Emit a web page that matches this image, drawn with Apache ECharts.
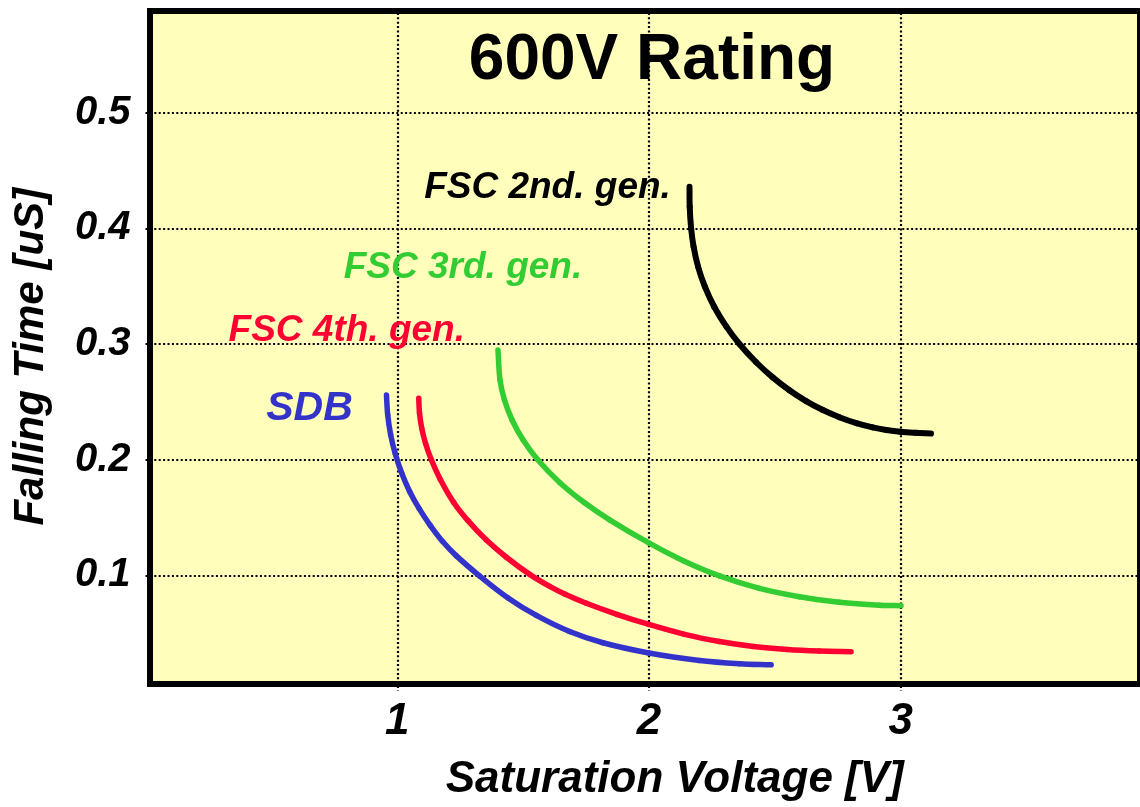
<!DOCTYPE html>
<html>
<head>
<meta charset="utf-8">
<script src="https://cdn.jsdelivr.net/npm/echarts@6/dist/echarts.min.js"></script>
<style>
  html, body { margin: 0; padding: 0; background: #ffffff; }
  #chart { width: 1140px; height: 807px; }
</style>
</head>
<body>
<div id="chart"></div>
<script>
// ---- data ----
const titleText = '600V Rating';
const xAxisName = 'Saturation Voltage [V]';
const yAxisName = 'Falling Time [uS]';
const xTicks = [1, 2, 3];
const yTicks = [0.1, 0.2, 0.3, 0.4, 0.5];

const fsc2Name = 'FSC 2nd. gen.';
const fsc2X = [2.1607, 2.1615, 2.1671, 2.1770, 2.1948, 2.2218, 2.2587, 2.3071, 2.3591, 2.4254, 2.4913,
               2.5575, 2.6238, 2.6885, 2.7560, 2.8234, 2.8881, 2.9425, 2.9980, 3.0575, 3.1198];
const fsc2Y = [0.4360, 0.4187, 0.4000, 0.3841, 0.3668, 0.3495, 0.3322, 0.3150, 0.3000, 0.2842, 0.2711,
               0.2600, 0.2506, 0.2431, 0.2367, 0.2316, 0.2279, 0.2257, 0.2241, 0.2232, 0.2226];

const fsc3Name = 'FSC 3rd. gen.';
const fsc3X = [1.4000, 1.4079, 1.4258, 1.4560, 1.5000, 1.5587, 1.6448, 1.7440, 1.8433, 1.9992, 2.1381,
               2.2798, 2.4385, 2.5972, 2.7560, 2.9147, 3.0008];
const fsc3Y = [0.2948, 0.2689, 0.2516, 0.2343, 0.2170, 0.1997, 0.1803, 0.1627, 0.1480, 0.1280, 0.1124,
               0.0995, 0.0887, 0.0815, 0.0768, 0.0742, 0.0738];

const fsc4Name = 'FSC 4th. gen.';
const fsc4X = [1.0853, 1.0883, 1.0972, 1.1121, 1.1357, 1.1710, 1.2242, 1.2798, 1.3540, 1.4333, 1.5258,
               1.6052, 1.6647, 1.7508, 1.8750, 1.9992, 2.1409, 2.2798, 2.4147, 2.5496, 2.6766, 2.8024];
const fsc4Y = [0.2531, 0.2401, 0.2271, 0.2142, 0.1997, 0.1829, 0.1630, 0.1475, 0.1305, 0.1156, 0.1008,
               0.0904, 0.0839, 0.0759, 0.0661, 0.0575, 0.0490, 0.0428, 0.0385, 0.0359, 0.0346, 0.0340];

const sdbName = 'SDB';
const sdbX = [0.9571, 0.9620, 0.9737, 0.9923, 1.0175, 1.0491, 1.0870, 1.1308, 1.1802, 1.2348, 1.3274,
              1.4385, 1.5524, 1.6845, 1.8167, 1.9992, 2.2004, 2.3591, 2.4849];
const sdbY = [0.2559, 0.2387, 0.2216, 0.2048, 0.1884, 0.1725, 0.1576, 0.1432, 0.1292, 0.1168, 0.0994,
              0.0807, 0.0653, 0.0514, 0.0417, 0.0329, 0.0264, 0.0236, 0.0226];

// ---- styling ----
const FONT = 'Liberation Sans, Arial, sans-serif';
const zip = (xs, ys) => xs.map((x, i) => [x, ys[i]]);

// smooth curve through the data points (tangent-weighted cubic Bezier segments),
// each point placed with the chart's own axes via api.coord
function curve(name, xs, ys, color, width, labelOffset, labelSize) {
  const pts = zip(xs, ys);
  const n = pts.length;
  return {
    name: name,
    type: 'custom',
    xAxisIndex: 1,
    yAxisIndex: 1,
    coordinateSystem: 'cartesian2d',
    silent: true,
    animation: false,
    z: 5,
    encode: { x: 0, y: 1 },
    data: pts,
    renderItem: function (params, api) {
      const i = params.dataIndex;
      const P = k => api.coord(pts[Math.max(0, Math.min(n - 1, k))]);
      const children = [];
      if (i < n - 1) {
        const p0 = P(i - 1), p1 = P(i), p2 = P(i + 1), p3 = P(i + 2);
        const d = (a, b) => Math.hypot(b[0] - a[0], b[1] - a[1]);
        const s = 1 / 3;
        const dPrev1 = d(p0, p1), dNext1 = d(p1, p2);
        const w1 = dNext1 / ((dPrev1 + dNext1) || 1);
        const c1 = [p1[0] + (p2[0] - p0[0]) * w1 * s, p1[1] + (p2[1] - p0[1]) * w1 * s];
        const dPrev2 = d(p1, p2), dNext2 = d(p2, p3);
        const w2 = dPrev2 / ((dPrev2 + dNext2) || 1);
        const c2 = [p2[0] - (p3[0] - p1[0]) * w2 * s, p2[1] - (p3[1] - p1[1]) * w2 * s];
        children.push({
          type: 'bezierCurve',
          shape: { x1: p1[0], y1: p1[1], x2: p2[0], y2: p2[1],
                   cpx1: c1[0], cpy1: c1[1], cpx2: c2[0], cpy2: c2[1] },
          style: { stroke: color, lineWidth: width, lineCap: 'round', lineJoin: 'round', fill: null }
        });
      }
      if (i === 0) {
        const p = P(0);
        children.push({
          type: 'text',
          x: p[0] + labelOffset[0],
          y: p[1] + labelOffset[1],
          style: {
            text: name,
            fill: color,
            font: 'italic bold ' + labelSize + 'px ' + FONT,
            align: 'center',
            verticalAlign: 'middle'
          }
        });
      }
      return { type: 'group', children: children };
    }
  };
}

const chart = echarts.init(document.getElementById('chart'), null, { renderer: 'canvas' });

const tickLabelStyle = {
  color: '#000',
  fontFamily: FONT,
  fontWeight: 'bold',
  fontStyle: 'italic'
};
const gridLineStyle = { color: '#000', width: 2.2, type: [2, 2.4] };

const option = {
  animation: false,
  backgroundColor: '#ffffff',
  title: {
    text: titleText,
    left: 647,
    textAlign: 'center',
    top: 24,
    textStyle: { color: '#000', fontFamily: FONT, fontWeight: 'bold', fontSize: 64 }
  },
  grid: [
    // frame + yellow plot background
    { left: 150, top: 11, right: -20, bottom: 123, show: true, backgroundColor: '#FFFFBB',
      borderColor: '#000', borderWidth: 6, z: -1 },
    // data grid (value scale)
    { left: 145.5, top: 8.5, right: -1, bottom: 115.9, show: false }
  ],
  xAxis: [
    { gridIndex: 0, type: 'value', show: false, min: 0, max: 1 },
    {
      gridIndex: 1, type: 'value', min: 0, max: 3.95,
      name: xAxisName, nameLocation: 'middle', nameGap: 67,
      nameTextStyle: { color: '#000', fontFamily: FONT, fontWeight: 'bold', fontStyle: 'italic', fontSize: 44,
        padding: [0, 0, 0, 64] },
      axisLine: { show: false },
      axisTick: { show: false, customValues: xTicks },
      axisLabel: Object.assign({ customValues: xTicks, fontSize: 44, margin: 9 }, tickLabelStyle),
      splitLine: { show: true, lineStyle: gridLineStyle }
    }
  ],
  yAxis: [
    { gridIndex: 0, type: 'value', show: false, min: 0, max: 1 },
    {
      gridIndex: 1, type: 'value', min: 0, max: 0.59,
      name: yAxisName, nameLocation: 'middle', nameRotate: 90, nameGap: 93,
      nameTextStyle: { color: '#000', fontFamily: FONT, fontWeight: 'bold', fontStyle: 'italic', fontSize: 42,
        padding: [0, 14, 0, 0] },
      axisLine: { show: false },
      axisTick: { show: false, customValues: yTicks },
      axisLabel: Object.assign({ customValues: yTicks, fontSize: 40, margin: 15,
        formatter: v => v.toFixed(1) }, tickLabelStyle),
      splitLine: { show: true, lineStyle: gridLineStyle }
    }
  ],
  series: [
    curve(fsc2Name, fsc2X, fsc2Y, '#000000', 6, [-142, 1], 37),
    curve(fsc3Name, fsc3X, fsc3Y, '#33CC33', 5.5, [-35, -82], 37),
    curve(fsc4Name, fsc4X, fsc4Y, '#FF0033', 5.5, [-72, -67], 37),
    curve(sdbName, sdbX, sdbY, '#3333CC', 5.5, [-77, 14], 41)
  ]
};

chart.setOption(option);
</script>
</body>
</html>
